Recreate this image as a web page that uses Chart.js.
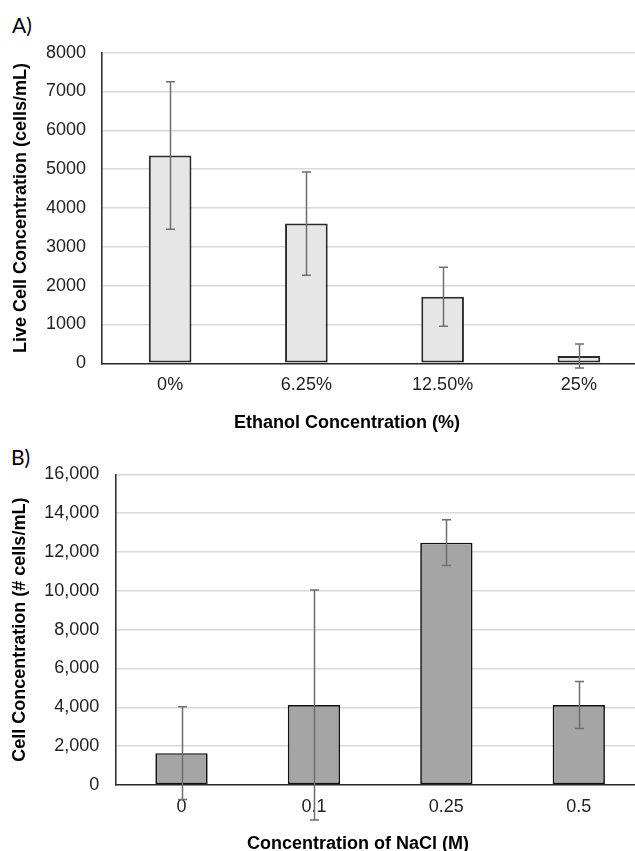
<!DOCTYPE html>
<html>
<head>
<meta charset="utf-8">
<script src="https://cdn.jsdelivr.net/npm/chart.js@4.4.1/dist/chart.umd.min.js"></script>
<style>
  html, body { margin: 0; padding: 0; background: #fff; }
  body { width: 635px; height: 851px; overflow: hidden; position: relative; }
  canvas { position: absolute; left: 0; }
  #cA { top: 0; }
  #cB { top: 440px; }
  .panel { position: absolute; font-family: Lato, 'Open Sans', sans-serif; font-size: 21px; line-height: 21px; color: #000; }
  .xtitle { position: absolute; width: 320px; text-align: center; font-family: 'Liberation Sans', Arial, sans-serif; font-weight: bold; font-size: 18px; line-height: 22px; color: #000; white-space: nowrap; }
</style>
</head>
<body>
<div class="panel" style="left:12px; top:14px;">A)</div>
<div class="panel" style="left:11px; top:446px;">B)</div>
<canvas id="cA" width="647" height="440"></canvas>
<canvas id="cB" width="645" height="411"></canvas>
<div class="xtitle" id="xtA" style="left:187px; top:411px;">Ethanol Concentration (%)</div>
<div class="xtitle" id="xtB" style="left:198px; top:832px;">Concentration of NaCl (M)</div>
<script>
// ---- Data ----
const ethanolLabels = ['0%', '6.25%', '12.50%', '25%'];
const liveCells = [5350, 3600, 1715, 190];
const liveCellsErr = [1900, 1330, 760, 310];

const naclLabels = ['0', '0.1', '0.25', '0.5'];
const naclCells = [1640, 4120, 12480, 4120];
const naclCellsErr = [2390, 5920, 1175, 1210];

const yTitleA = 'Live Cell Concentration (cells/mL)';
const yTitleB = 'Cell Concentration (# cells/mL)';

Chart.defaults.font.family = "'Liberation Sans', Arial, sans-serif";

const errorBars = {
  id: 'errorBars',
  afterDatasetsDraw(chart, args, opts) {
    const ctx = chart.ctx;
    const ys = chart.scales.y;
    const ds = chart.data.datasets[0];
    const meta = chart.getDatasetMeta(0);
    ctx.save();
    ctx.strokeStyle = opts.color || '#707070';
    ctx.lineWidth = opts.width || 1.5;
    const cap = opts.cap || 4.5;
    meta.data.forEach((bar, i) => {
      const v = ds.data[i], e = ds.errors[i];
      const top = ys.getPixelForValue(v + e);
      const bot = ys.getPixelForValue(v - e);
      const x = Math.round(bar.x) + 0.5;
      ctx.beginPath();
      ctx.moveTo(x, top); ctx.lineTo(x, bot);
      ctx.moveTo(x - cap, top); ctx.lineTo(x + cap, top);
      ctx.moveTo(x - cap, bot); ctx.lineTo(x + cap, bot);
      ctx.stroke();
    });
    ctx.restore();
  }
};

function makeChart(id, labels, data, errs, fill, border, borderW, barPct, yMax, step, yTitle, opts) {
  return new Chart(document.getElementById(id), {
    type: 'bar',
    data: {
      labels: labels,
      datasets: [{
        data: data,
        errors: errs,
        backgroundColor: fill,
        borderColor: border,
        borderWidth: borderW,
        borderSkipped: false,
        categoryPercentage: 1,
        barPercentage: barPct
      }]
    },
    plugins: [errorBars],
    options: {
      responsive: false,
      animation: false,
      devicePixelRatio: 1,
      layout: { padding: { top: opts.padTop, left: 0, right: 0, bottom: 0 } },
      plugins: {
        legend: { display: false },
        tooltip: { enabled: false },
        errorBars: { color: '#6e6e6e', width: 1.5, cap: 4.5 }
      },
      scales: {
        x: {
          type: 'category',
          offset: true,
          grid: { display: false, drawTicks: false },
          border: { display: true, color: '#262626', width: 1.6 },
          ticks: { padding: 11.4, maxRotation: 0, autoSkip: false, color: '#222', font: { size: 18 } },
          afterFit: s => { s.height = opts.xH; }
        },
        y: {
          min: 0, max: yMax,
          ticks: {
            stepSize: step, padding: 16, color: '#222', font: { size: 18 },
            callback: v => opts.comma ? v.toLocaleString('en-US') : String(v)
          },
          grid: {
            color: c => (c.tick && c.tick.value === 0) ? 'rgba(0,0,0,0)' : '#d9d9d9',
            lineWidth: 1.5, drawTicks: false
          },
          border: { display: true, color: '#333', width: 1.6 },
          title: { display: true, text: yTitle, color: '#000', font: { size: 18, weight: 'bold' }, padding: { top: opts.titlePad, bottom: 0 } },
          afterFit: s => { s.width = opts.yW; }
        }
      }
    }
  });
}

makeChart('cA', ethanolLabels, liveCells, liveCellsErr, '#e7e6e6', '#2b2b2b', 2, 0.313, 8000, 1000, yTitleA,
  { padTop: 52.7, xH: 76.7, yW: 102, titlePad: 10.2, comma: false });
makeChart('cB', naclLabels, naclCells, naclCellsErr, '#a5a5a5', '#111', 1.7, 0.395, 16000, 2000, yTitleB,
  { padTop: 34.3, xH: 66, yW: 115.3, titlePad: 9.2, comma: true });
</script>
</body>
</html>
